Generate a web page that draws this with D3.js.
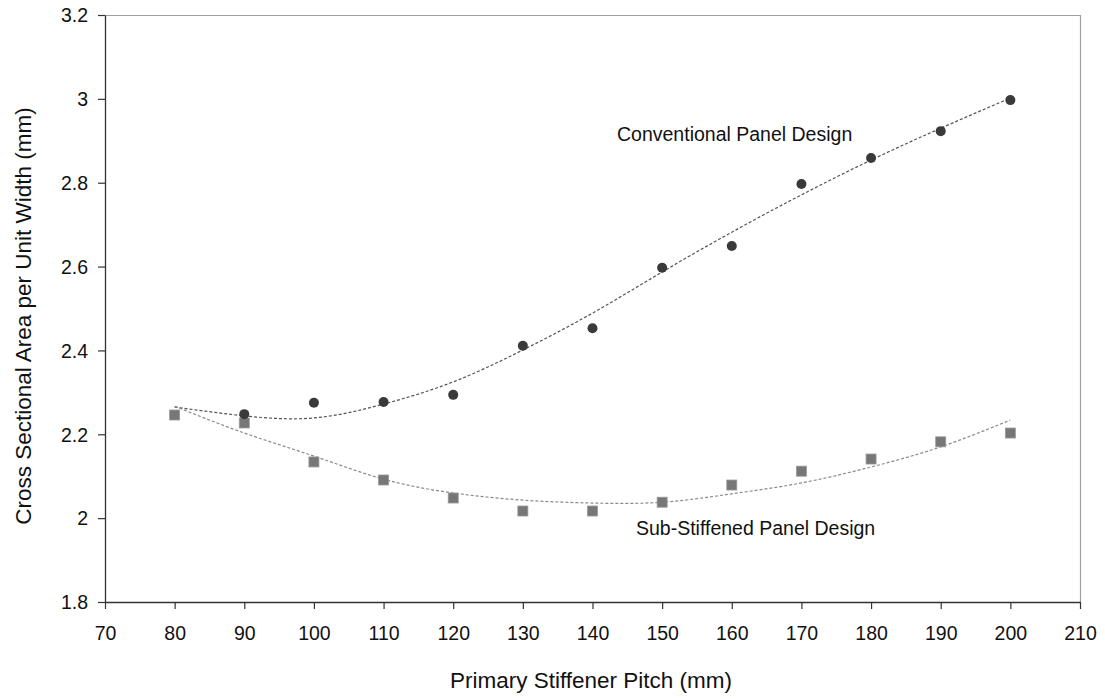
<!DOCTYPE html>
<html>
<head>
<meta charset="utf-8">
<script src="https://cdn.jsdelivr.net/npm/d3@7"></script>
<style>
  html, body { margin: 0; padding: 0; background: #fff; }
  svg { display: block; font-family: "Liberation Sans", Arial, sans-serif; }
</style>
</head>
<body>
<svg id="chart" width="1105" height="699"></svg>
<script>
// Primary stiffener pitch (mm)
const pitch = [80, 90, 100, 110, 120, 130, 140, 150, 160, 170, 180, 190, 200];
const conventionalPitch = [90, 100, 110, 120, 130, 140, 150, 160, 170, 180, 190, 200];

// Cross sectional area per unit width (mm)
const conventional = [2.248, 2.275, 2.277, 2.294, 2.411, 2.453, 2.597, 2.649, 2.797, 2.859, 2.923, 2.997];
const subStiffened = [2.246, 2.227, 2.134, 2.091, 2.048, 2.017, 2.017, 2.038, 2.079, 2.112, 2.141, 2.182, 2.203];

// Polynomial trend lines
const conventionalTrend = [2.265, 2.244, 2.239, 2.272, 2.325, 2.401, 2.489, 2.587, 2.682, 2.771, 2.854, 2.930, 3.002];
const subStiffenedTrend = [2.267, 2.203, 2.148, 2.093, 2.060, 2.043, 2.036, 2.038, 2.058, 2.084, 2.122, 2.170, 2.234];

const xTicks = [70, 80, 90, 100, 110, 120, 130, 140, 150, 160, 170, 180, 190, 200, 210];
const yTicks = [1.8, 2, 2.2, 2.4, 2.6, 2.8, 3, 3.2];

const svg = d3.select("#chart");
const plotLeft = 105, plotRight = 1080, plotTop = 15, plotBottom = 602;

const x = d3.scaleLinear().domain([70, 210]).range([plotLeft, plotRight]);
const y = d3.scaleLinear().domain([1.8, 3.2]).range([plotBottom, plotTop]);

// plot frame (top and right in light grey)
svg.append("path")
  .attr("d", `M${plotLeft},${plotTop + 0.5}H${plotRight + 0.5}V${plotBottom}`)
  .attr("fill", "none").attr("stroke", "#a0a0a0").attr("stroke-width", 1.2);

const fmtY = d => (d === 2 || d === 3) ? String(d) : d3.format(".1f")(d);

const yAxis = svg.append("g")
  .attr("transform", `translate(${plotLeft},0)`)
  .call(d3.axisLeft(y).tickValues(yTicks).tickFormat(fmtY).tickSize(7).tickSizeOuter(0).tickPadding(10));
const xAxis = svg.append("g")
  .attr("transform", `translate(0,${plotBottom})`)
  .call(d3.axisBottom(x).tickValues(xTicks).tickFormat(d3.format("d")).tickSize(7).tickSizeOuter(0).tickPadding(17));

[yAxis, xAxis].forEach(g => {
  g.select(".domain").attr("stroke", "#333").attr("stroke-width", 1.3);
  g.selectAll(".tick line").attr("stroke", "#333").attr("stroke-width", 1.2);
  g.selectAll(".tick text").attr("fill", "#111").style("font-size", "19.5px")
    .style("font-family", "\"Liberation Sans\", Arial, sans-serif");
});
yAxis.selectAll(".tick text").attr("dy", "0.35em");

// axis titles
svg.append("text")
  .attr("x", 591).attr("y", 688)
  .attr("text-anchor", "middle").attr("fill", "#111")
  .style("font-size", "22.5px")
  .text("Primary Stiffener Pitch (mm)");
svg.append("text")
  .attr("transform", "translate(31,316) rotate(-90)")
  .attr("text-anchor", "middle").attr("fill", "#111")
  .style("font-size", "22.5px")
  .text("Cross Sectional Area per Unit Width (mm)");

// trend lines
const line = d3.line().x(d => x(d[0])).y(d => y(d[1])).curve(d3.curveNatural);
svg.append("path")
  .datum(pitch.map((p, i) => [p, conventionalTrend[i]]))
  .attr("d", line).attr("fill", "none")
  .attr("stroke", "#555").attr("stroke-width", 1.2).attr("stroke-dasharray", "3,2");
svg.append("path")
  .datum(pitch.map((p, i) => [p, subStiffenedTrend[i]]))
  .attr("d", line).attr("fill", "none")
  .attr("stroke", "#8a8a8a").attr("stroke-width", 1.2).attr("stroke-dasharray", "3,2");

// markers
svg.append("g").selectAll("rect")
  .data(pitch.map((p, i) => [p, subStiffened[i]]))
  .join("rect")
  .attr("x", d => x(d[0]) - 5).attr("y", d => y(d[1]) - 5)
  .attr("width", 10).attr("height", 10)
  .attr("fill", "#777").attr("stroke", "#999").attr("stroke-width", 0.8);

svg.append("g").selectAll("circle")
  .data(conventionalPitch.map((p, i) => [p, conventional[i]]))
  .join("circle")
  .attr("cx", d => x(d[0])).attr("cy", d => y(d[1])).attr("r", 5)
  .attr("fill", "#3a3a3a");

// series labels
svg.append("text")
  .attr("x", 617).attr("y", 141)
  .attr("fill", "#111").style("font-size", "19.5px")
  .text("Conventional Panel Design");
svg.append("text")
  .attr("x", 636).attr("y", 535)
  .attr("fill", "#111").style("font-size", "19.5px")
  .text("Sub-Stiffened Panel Design");
</script>
</body>
</html>
